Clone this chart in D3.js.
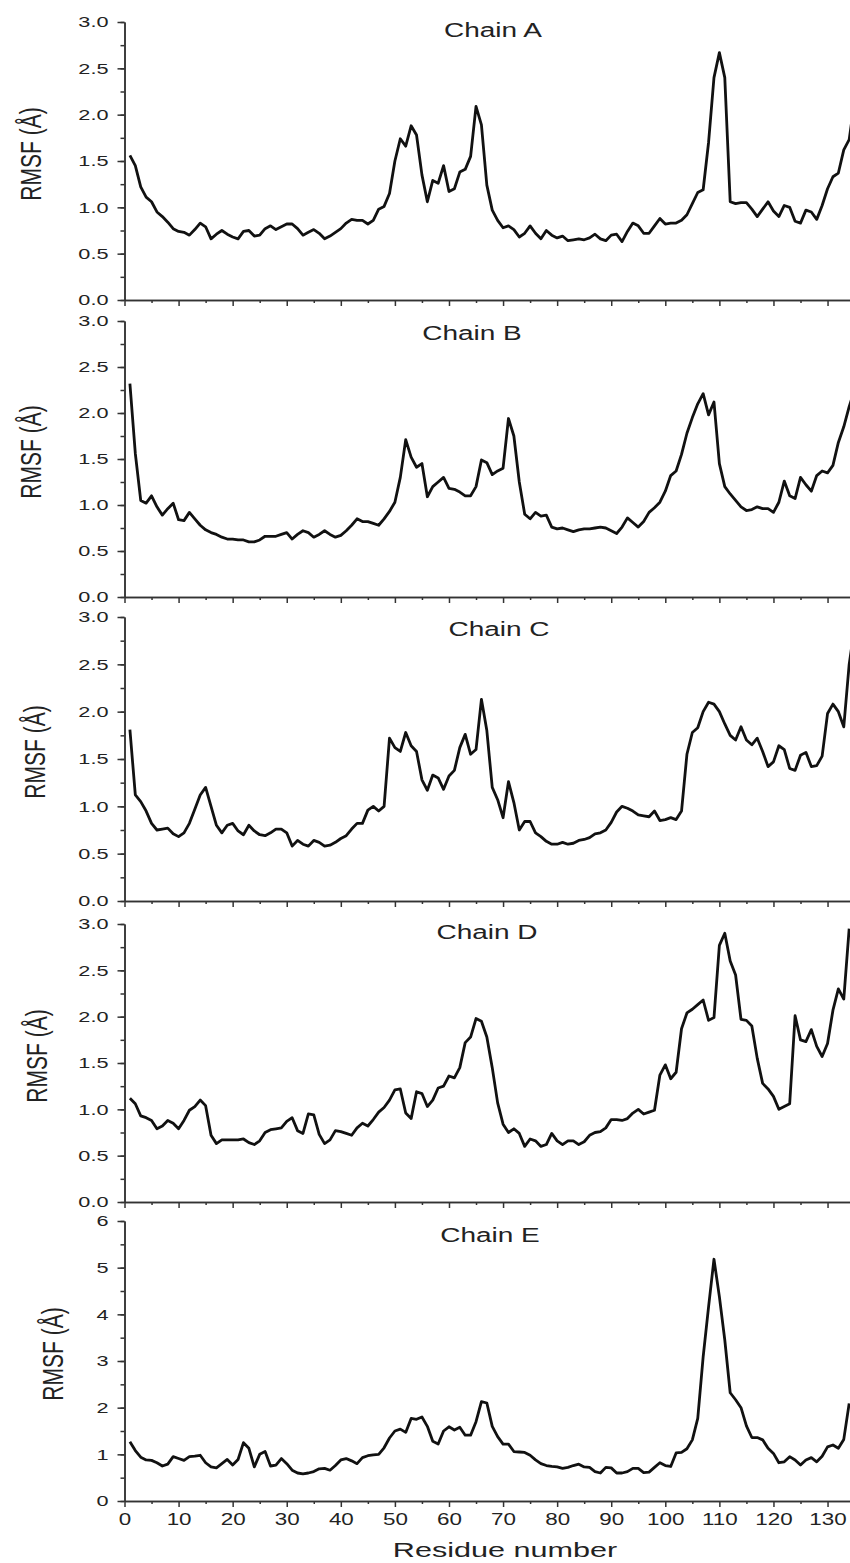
<!DOCTYPE html>
<html>
<head>
<meta charset="utf-8">
<script src="https://cdn.jsdelivr.net/npm/d3@7"></script>
<style>
  body { margin: 0; background: #fff; }
  svg { display: block; font-family: "Liberation Sans", Arial, sans-serif; }
  .axis path, .axis line { stroke: #333; stroke-width: 1.5; }
  .axis text { fill: #222; }
</style>
</head>
<body>
<svg id="chart" width="850" height="1563"></svg>
<script>
// RMSF per residue (residue 1..n)
const chainA = [1.56,1.45,1.22,1.11,1.06,0.95,0.90,0.84,0.77,0.74,
  0.73,0.70,0.76,0.83,0.79,0.66,0.71,0.75,0.71,0.68,
  0.66,0.74,0.75,0.69,0.70,0.77,0.80,0.76,0.79,0.82,
  0.82,0.77,0.70,0.73,0.76,0.72,0.66,0.69,0.73,0.77,
  0.83,0.87,0.86,0.86,0.82,0.86,0.98,1.01,1.15,1.50,
  1.74,1.66,1.88,1.78,1.35,1.06,1.29,1.26,1.45,1.17,
  1.20,1.38,1.41,1.55,2.09,1.89,1.24,0.97,0.86,0.78,
  0.80,0.76,0.68,0.72,0.80,0.72,0.66,0.75,0.70,0.67,
  0.69,0.64,0.65,0.66,0.65,0.67,0.71,0.66,0.64,0.70,
  0.71,0.63,0.74,0.83,0.80,0.72,0.72,0.80,0.88,0.82,
  0.83,0.83,0.86,0.92,1.04,1.16,1.19,1.70,2.40,2.67,
  2.40,1.06,1.04,1.05,1.05,0.98,0.90,0.98,1.06,0.96,
  0.90,1.02,1.00,0.85,0.83,0.97,0.95,0.87,1.02,1.20,
  1.33,1.37,1.62,1.73,2.15];
const chainB = [2.32,1.56,1.05,1.02,1.10,0.98,0.89,0.96,1.02,0.84,
  0.83,0.92,0.85,0.78,0.73,0.70,0.68,0.65,0.63,0.63,
  0.62,0.62,0.60,0.60,0.62,0.66,0.66,0.66,0.68,0.70,
  0.63,0.68,0.72,0.70,0.65,0.68,0.72,0.68,0.65,0.67,
  0.72,0.78,0.85,0.82,0.82,0.80,0.78,0.85,0.93,1.03,
  1.30,1.71,1.52,1.41,1.45,1.09,1.20,1.25,1.30,1.18,
  1.17,1.14,1.10,1.10,1.20,1.49,1.46,1.33,1.37,1.40,
  1.94,1.75,1.25,0.90,0.85,0.92,0.88,0.89,0.76,0.74,
  0.75,0.73,0.71,0.73,0.74,0.74,0.75,0.76,0.75,0.72,
  0.69,0.76,0.86,0.81,0.76,0.82,0.92,0.97,1.03,1.15,
  1.32,1.37,1.55,1.78,1.95,2.10,2.21,1.98,2.12,1.45,
  1.20,1.12,1.05,0.98,0.94,0.95,0.98,0.96,0.96,0.92,
  1.03,1.26,1.10,1.07,1.30,1.22,1.15,1.32,1.37,1.35,
  1.43,1.68,1.85,2.07,2.25];
const chainC = [1.81,1.12,1.05,0.95,0.82,0.75,0.76,0.77,0.71,0.68,
  0.72,0.82,0.97,1.12,1.20,1.00,0.80,0.72,0.80,0.82,
  0.74,0.70,0.80,0.74,0.70,0.69,0.72,0.76,0.76,0.72,
  0.58,0.64,0.60,0.58,0.64,0.62,0.58,0.59,0.62,0.66,
  0.69,0.76,0.82,0.82,0.96,1.00,0.95,1.00,1.72,1.62,
  1.58,1.78,1.64,1.58,1.28,1.17,1.33,1.30,1.18,1.32,
  1.38,1.62,1.76,1.55,1.60,2.13,1.80,1.20,1.07,0.88,
  1.26,1.04,0.75,0.84,0.84,0.72,0.68,0.63,0.60,0.60,
  0.62,0.60,0.61,0.64,0.65,0.67,0.71,0.72,0.75,0.83,
  0.94,1.00,0.98,0.95,0.91,0.90,0.89,0.95,0.85,0.86,
  0.88,0.86,0.95,1.55,1.78,1.83,2.00,2.10,2.08,2.00,
  1.87,1.75,1.70,1.84,1.70,1.65,1.72,1.58,1.42,1.47,
  1.64,1.60,1.40,1.38,1.54,1.57,1.42,1.43,1.53,1.98,
  2.08,2.00,1.84,2.50,2.90];
const chainD = [1.12,1.06,0.93,0.91,0.88,0.79,0.82,0.88,0.85,0.79,
  0.88,0.99,1.03,1.10,1.04,0.72,0.63,0.67,0.67,0.67,
  0.67,0.68,0.64,0.62,0.66,0.75,0.78,0.79,0.80,0.87,
  0.91,0.77,0.74,0.95,0.94,0.73,0.63,0.67,0.77,0.76,
  0.74,0.72,0.80,0.85,0.82,0.89,0.97,1.02,1.10,1.21,
  1.22,0.96,0.90,1.19,1.17,1.03,1.10,1.23,1.25,1.36,
  1.34,1.45,1.72,1.78,1.98,1.95,1.78,1.45,1.07,0.84,
  0.75,0.79,0.74,0.60,0.68,0.66,0.60,0.62,0.74,0.66,
  0.62,0.66,0.66,0.62,0.65,0.72,0.75,0.76,0.80,0.89,
  0.89,0.88,0.90,0.96,1.00,0.95,0.97,0.99,1.37,1.48,
  1.33,1.40,1.87,2.04,2.08,2.13,2.18,1.96,1.99,2.77,
  2.90,2.60,2.45,1.97,1.96,1.90,1.55,1.28,1.22,1.14,
  1.00,1.03,1.06,2.01,1.75,1.73,1.86,1.68,1.57,1.71,
  2.07,2.30,2.19,2.95];
const chainE = [1.27,1.08,0.94,0.88,0.87,0.82,0.75,0.79,0.95,0.91,
  0.87,0.95,0.96,0.98,0.82,0.73,0.71,0.80,0.89,0.77,
  0.89,1.25,1.13,0.73,1.00,1.06,0.75,0.77,0.91,0.80,
  0.66,0.60,0.58,0.60,0.63,0.69,0.70,0.66,0.76,0.88,
  0.91,0.86,0.80,0.93,0.97,0.99,1.00,1.14,1.35,1.50,
  1.54,1.47,1.77,1.75,1.80,1.60,1.28,1.22,1.50,1.59,
  1.52,1.58,1.41,1.41,1.70,2.13,2.10,1.60,1.38,1.22,
  1.22,1.06,1.05,1.04,0.98,0.88,0.80,0.76,0.74,0.73,
  0.70,0.72,0.76,0.79,0.73,0.72,0.63,0.60,0.72,0.71,
  0.60,0.60,0.63,0.70,0.70,0.61,0.62,0.72,0.82,0.76,
  0.74,1.03,1.04,1.12,1.31,1.77,3.09,4.16,5.18,4.38,
  3.45,2.32,2.17,2.00,1.61,1.36,1.36,1.31,1.13,1.02,
  0.82,0.84,0.95,0.88,0.77,0.88,0.93,0.84,0.96,1.16,
  1.20,1.13,1.32,2.09];

const chainNames = ["Chain A", "Chain B", "Chain C", "Chain D", "Chain E"];
const chainSeries = [chainA, chainB, chainC, chainD, chainE];
const yMaxes = [3, 3, 3, 3, 6];
const yMajorSteps = [0.5, 0.5, 0.5, 0.5, 1];
const xTickValues = d3.range(0, 140, 10);
const xLabel = "Residue number";
const yLabel = "RMSF (Å)";

// layout (pixel positions of each panel), kept apart from the data
const layout = [
  {top: 22,   bottom: 300,  titleX: 493, titleY: 37,   labelX: 31},
  {top: 321,  bottom: 597,  titleX: 472, titleY: 340,  labelX: 31},
  {top: 617,  bottom: 901,  titleX: 499, titleY: 636,  labelX: 35},
  {top: 924,  bottom: 1202, titleX: 487, titleY: 939,  labelX: 37},
  {top: 1221, bottom: 1501, titleX: 490, titleY: 1242, labelX: 53},
];
const stretch = 1.4;   // the source figure is widened horizontally
const axisX = 124.5;

const svg = d3.select("#chart");
const x = d3.scaleLinear().domain([0, 135]).range([axisX, axisX + 135 * 5.408]);

chainSeries.forEach((vals, i) => {
  let lay = layout[i];
  let y = d3.scaleLinear().domain([0, yMaxes[i]]).range([lay.bottom, lay.top]);
  let g = svg.append("g");
  let isLast = i == chainSeries.length - 1;
  let step = yMajorSteps[i];
  let fmt = step < 1 ? d3.format(".1f") : d3.format("d");

  // minor ticks
  g.append("g").attr("class", "axis")
    .attr("transform", "translate(" + axisX + ",0)")
    .call(d3.axisLeft(y).tickValues(d3.range(0, yMaxes[i] + 1e-9, step / 2)).tickSize(4).tickSizeOuter(0).tickFormat(""));
  g.append("g").attr("class", "axis")
    .attr("transform", "translate(0," + lay.bottom + ")")
    .call(d3.axisBottom(x).tickValues(d3.range(5, 140, 10)).tickSize(3).tickSizeOuter(0).tickFormat(""));

  // major y axis
  let ya = g.append("g").attr("class", "axis")
    .attr("transform", "translate(" + axisX + ",0)")
    .call(d3.axisLeft(y).tickValues(d3.range(0, yMaxes[i] + 1e-9, step)).tickSize(7).tickSizeOuter(0).tickFormat(fmt));
  ya.selectAll("text")
    .attr("x", -16 / stretch)
    .attr("transform", "scale(" + stretch + ",1)")
    .style("font-size", "15.5px");

  // major x axis
  let xa = g.append("g").attr("class", "axis")
    .attr("transform", "translate(0," + lay.bottom + ")")
    .call(d3.axisBottom(x).tickValues(xTickValues).tickSize(6).tickSizeOuter(0)
      .tickFormat(isLast ? d3.format("d") : ""));
  xa.selectAll("text")
    .attr("y", 13)
    .attr("transform", "scale(" + stretch + ",1)")
    .style("font-size", "16px");

  // series line
  let line = d3.line()
    .x((d, k) => x(k + 1))
    .y(d => y(d));
  g.append("path")
    .datum(vals)
    .attr("d", line)
    .attr("fill", "none")
    .attr("stroke", "#111")
    .attr("stroke-width", 2.8)
    .attr("stroke-linejoin", "round");

  // panel title
  g.append("text")
    .attr("transform", "translate(" + lay.titleX + "," + lay.titleY + ") scale(" + stretch + ",1)")
    .attr("text-anchor", "middle")
    .style("font-size", "20px")
    .attr("fill", "#222")
    .text(chainNames[i]);

  // y label
  let cy = (lay.top + lay.bottom) / 2 - 7;
  g.append("text")
    .attr("transform", "translate(" + lay.labelX + "," + cy + ") scale(" + stretch + ",1) rotate(-90)")
    .attr("text-anchor", "middle")
    .attr("dy", "0.35em")
    .style("font-size", "21px")
    .attr("fill", "#222")
    .text(yLabel);
});

svg.append("text")
  .attr("transform", "translate(505,1557) scale(1.53,1)")
  .attr("text-anchor", "middle")
  .style("font-size", "20px")
  .attr("fill", "#222")
  .text(xLabel);
</script>
</body>
</html>
